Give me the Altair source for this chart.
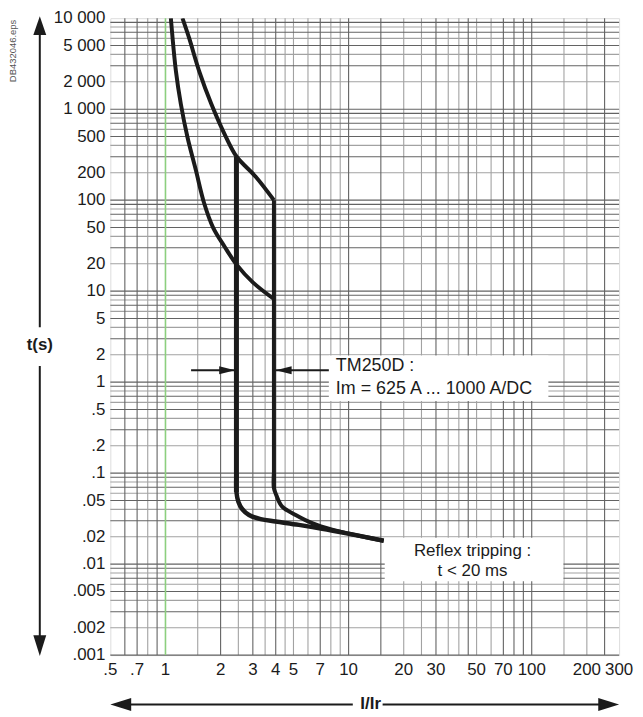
import altair as alt
import pandas as pd

FONT = "Liberation Sans"
INK = "#1b1b1b"
W, H = 512, 641

# ---------------- axis ticks ----------------
x_ticks = [0.5, 0.7, 1, 2, 3, 4, 5, 7, 10, 20, 30, 50, 70, 100, 200, 300]
x_tick_labels = [".5", ".7", "1", "2", "3", "4", "5", "7", "10", "20", "30",
                 "50", "70", "100", "200", "300"]
y_ticks = [10000, 5000, 2000, 1000, 500, 200, 100, 50, 20, 10, 5, 2, 1,
           0.5, 0.2, 0.1, 0.05, 0.02, 0.01, 0.005, 0.002, 0.001]
y_tick_labels = ["10 000", "5 000", "2 000", "1 000", "500", "200", "100", "50",
                 "20", "10", "5", "2", "1", ".5", ".2", ".1", ".05", ".02",
                 ".01", ".005", ".002", ".001"]

# ---------------- grid lines ----------------
x_grid_dark = [0.6, 0.7, 0.9, 2, 3, 4, 7, 10, 15, 30, 45, 70, 80, 90, 100, 250]
x_grid_light = [0.8, 1.5, 2.5, 3.5, 4.5, 5, 6, 8, 9, 20, 25, 35, 40, 50, 60,
                150, 200]
decades = [0.001, 0.01, 0.1, 1, 10, 100, 1000]
y_mult_dark = [1, 3, 5, 7, 9]
y_mult_light = [2, 4, 6, 8]
y_grid_dark = [d * m for d in decades for m in y_mult_dark]
y_grid_light = [d * m for d in decades for m in y_mult_light]
green_line_x = [1]

# ---------------- tripping curves (I/Ir, t in s) ----------------
upper_I = [1.238, 1.346, 1.527, 1.78, 2.14, 2.45, 3.11, 3.91]
upper_t = [10000, 6060, 2624, 1140, 494, 300, 181, 100]

lower_I = [1.07, 1.14, 1.213, 1.318, 1.465, 1.625, 1.82, 2.1, 2.44, 3.0, 3.91]
lower_t = [10000, 2624, 1140, 494, 214, 93, 50, 31, 19.7, 12.5, 8.2]

# magnetic drop at Im = 1000 A (vertical part, then bend to reflex zone)
right_vert_I = [3.91, 3.91]
right_vert_t = [100, 0.0684]
right_bend_I = [3.91, 3.91, 4.03, 4.34, 5.14, 6.32, 8.13, 11.36, 15.55]
right_bend_t = [0.1, 0.0684, 0.0573, 0.0428, 0.0347, 0.0282, 0.0239, 0.0205, 0.0181]

# magnetic drop at Im = 625 A
left_vert_I = [2.44, 2.44]
left_vert_t = [300, 0.0622]
left_bend_I = [2.44, 2.44, 2.50, 2.63, 2.86, 3.31, 4.00, 5.35, 7.17, 10.0, 15.55]
left_bend_t = [0.1, 0.0622, 0.0485, 0.0401, 0.0347, 0.0312, 0.0294, 0.0270,
               0.0245, 0.0216, 0.0181]

# ---------------- annotations ----------------
arrow_t = [1.35]
arrow_left_from, arrow_left_tip = [1.38], [2.40]
arrow_right_from, arrow_right_tip = [7.8], [4.0]

box1_I, box1_I2, box1_t, box1_t2 = [7.8], [123.3], [1.963], [0.62]
note1_text = ["TM250D :", "Im = 625 A ... 1000 A/DC"]
note1_I = [8.52, 8.52]
note1_t = [1.314, 0.733]

box2_I, box2_I2, box2_t, box2_t2 = [15.75], [148.9], [0.0195], [0.00648]
note2_text = ["Reflex tripping :", "t < 20 ms"]
note2_I = [47.5, 47.5]
note2_t = [0.0123, 0.00745]

y_title = "t(s)"
x_title = "I/Ir"
file_tag = "DB432046.eps"

# ---------------- scales ----------------
xs = alt.Scale(type="log", domain=[0.5, 300], nice=False)
ys = alt.Scale(type="log", domain=[0.001, 10000], nice=False)


def X(f):
    return alt.X(f, type="quantitative", scale=xs, axis=None)


def Y(f):
    return alt.Y(f, type="quantitative", scale=ys, axis=None)


def curve(Is, ts, width, interp):
    df = pd.DataFrame({"i": list(range(len(Is))), "I": Is, "t": ts})
    return alt.Chart(df).mark_line(
        color=INK, strokeWidth=width, interpolate=interp, clip=True,
        strokeJoin="round").encode(x=X("I"), y=Y("t"), order="i:Q")


one = pd.DataFrame({"k": [0]})
layers = []

# grid
layers.append(alt.Chart(pd.DataFrame({"v": x_grid_light}))
              .mark_rule(color="#a2a2a2", strokeWidth=1.1).encode(x=X("v")))
layers.append(alt.Chart(pd.DataFrame({"v": y_grid_light}))
              .mark_rule(color="#a2a2a2", strokeWidth=1.1).encode(y=Y("v")))
layers.append(alt.Chart(pd.DataFrame({"v": x_grid_dark}))
              .mark_rule(color="#636363", strokeWidth=1.1).encode(x=X("v")))
layers.append(alt.Chart(pd.DataFrame({"v": y_grid_dark}))
              .mark_rule(color="#636363", strokeWidth=1.1).encode(y=Y("v")))
layers.append(alt.Chart(pd.DataFrame({"v": green_line_x}))
              .mark_rule(color="#8ccf7e", strokeWidth=1.6).encode(x=X("v")))

# white boxes
boxes = pd.DataFrame({"I": box1_I + box2_I, "I2": box1_I2 + box2_I2,
                      "t": box1_t + box2_t, "t2": box1_t2 + box2_t2})
layers.append(alt.Chart(boxes).mark_rect(color="white", opacity=1).encode(
    x=X("I"), x2=alt.X2("I2"), y=Y("t"), y2=alt.Y2("t2")))

# curves
layers += [
    curve(upper_I, upper_t, 4, "catmull-rom"),
    curve(lower_I, lower_t, 4, "catmull-rom"),
    curve(right_vert_I, right_vert_t, 4, "linear"),
    curve(right_bend_I, right_bend_t, 4, "catmull-rom"),
    curve(left_vert_I, left_vert_t, 5, "linear"),
    curve(left_bend_I, left_bend_t, 4.5, "catmull-rom"),
]

# annotation arrows
arr = pd.DataFrame({"a": arrow_left_from + arrow_right_from,
                    "b": arrow_left_tip + arrow_right_tip,
                    "t": arrow_t + arrow_t})
layers.append(alt.Chart(arr).mark_rule(color=INK, strokeWidth=2).encode(
    x=X("a"), x2=alt.X2("b"), y=Y("t")))
layers.append(alt.Chart(pd.DataFrame({"I": arrow_left_tip, "t": arrow_t}))
              .mark_point(shape="M0,0L-3.2,-0.8L-3.2,0.8Z", size=100,
                          filled=True, color=INK, opacity=1, strokeWidth=0)
              .encode(x=X("I"), y=Y("t")))
layers.append(alt.Chart(pd.DataFrame({"I": arrow_right_tip, "t": arrow_t}))
              .mark_point(shape="M0,0L3.2,-0.8L3.2,0.8Z", size=100,
                          filled=True, color=INK, opacity=1, strokeWidth=0)
              .encode(x=X("I"), y=Y("t")))

# notes
layers.append(alt.Chart(pd.DataFrame({"txt": note1_text, "I": note1_I, "t": note1_t}))
              .mark_text(font=FONT, fontSize=18, align="left",
                         baseline="alphabetic", color=INK)
              .encode(x=X("I"), y=Y("t"), text="txt:N"))
layers.append(alt.Chart(pd.DataFrame({"txt": note2_text, "I": note2_I, "t": note2_t}))
              .mark_text(font=FONT, fontSize=17, align="center",
                         baseline="alphabetic", color=INK)
              .encode(x=X("I"), y=Y("t"), text="txt:N"))

# tick labels
layers.append(alt.Chart(pd.DataFrame({"v": x_ticks, "lab": x_tick_labels}))
              .mark_text(font=FONT, fontSize=17, align="center",
                         baseline="alphabetic", color=INK)
              .encode(x=X("v"), y=alt.value(661), text="lab:N"))
layers.append(alt.Chart(pd.DataFrame({"v": y_ticks, "lab": y_tick_labels}))
              .mark_text(font=FONT, fontSize=17, align="right",
                         baseline="middle", color=INK)
              .encode(y=Y("v"), x=alt.value(-5), text="lab:N"))


# axis arrows and titles (decoration outside the plot)
def vrule(x, y1, y2):
    return alt.Chart(one).mark_rule(color=INK, strokeWidth=2).encode(
        x=alt.value(x), y=alt.value(y1), y2=alt.value(y2))


def hrule(y, x1, x2):
    return alt.Chart(one).mark_rule(color=INK, strokeWidth=2).encode(
        y=alt.value(y), x=alt.value(x1), x2=alt.value(x2))


def head(path, x, y):
    return alt.Chart(one).mark_point(shape=path, size=100, filled=True,
                                     color=INK, opacity=1, strokeWidth=0).encode(
        x=alt.value(x), y=alt.value(y))


layers += [
    vrule(-71, 15, 311), vrule(-71, 350, 623),
    head("M0,0L1.3,3.8L-1.3,3.8Z", -71, -2),
    head("M0,0L1.3,-4.2L-1.3,-4.2Z", -71, 642),
    hrule(690.7, 19, 244), hrule(690.7, 274, 493),
    head("M0,0L4.2,-1.3L4.2,1.3Z", 0, 690.7),
    head("M0,0L-4.2,-1.3L-4.2,1.3Z", 512, 690.7),
]
layers.append(alt.Chart(pd.DataFrame({"txt": [y_title]})).mark_text(
    font=FONT, fontSize=17, fontWeight="bold", align="center",
    baseline="middle", color=INK).encode(
    x=alt.value(-71), y=alt.value(329), text="txt:N"))
layers.append(alt.Chart(pd.DataFrame({"txt": [x_title]})).mark_text(
    font=FONT, fontSize=17, fontWeight="bold", align="center",
    baseline="middle", color=INK).encode(
    x=alt.value(262), y=alt.value(690.7), text="txt:N"))
layers.append(alt.Chart(pd.DataFrame({"txt": [file_tag]})).mark_text(
    font=FONT, fontSize=9.5, angle=270, align="center",
    baseline="middle", color="#555555").encode(
    x=alt.value(-97.5), y=alt.value(33), text="txt:N"))

chart = alt.layer(*layers).properties(
    width=W, height=H,
    padding={"left": 103, "top": 8, "right": 16, "bottom": 57},
    autosize=alt.AutoSizeParams(type="none"),
).configure_view(stroke="#1a1a1a", strokeWidth=1.6).configure(background="white")

chart.save("out.html", embed_options={"renderer": "svg", "actions": False})
